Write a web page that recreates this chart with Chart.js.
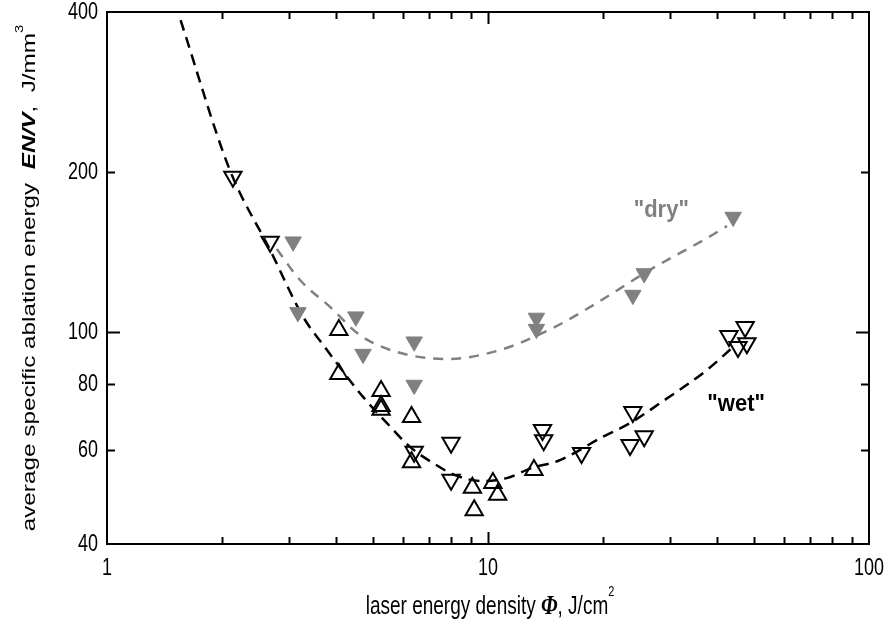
<!DOCTYPE html>
<html>
<head>
<meta charset="utf-8">
<script src="https://cdn.jsdelivr.net/npm/chart.js@4.4.1/dist/chart.umd.min.js"></script>
<style>
  html, body { margin: 0; padding: 0; background: #fff; }
  #wrap { width: 890px; height: 631px; }
</style>
</head>
<body>
<div id="wrap"><canvas id="ablation"></canvas></div>
<script>
// laser fluence (J/cm2) vs. average specific ablation energy (J/mm3)

// "wet" runs, downward triangles
var wetDownX = [2.14, 2.68, 6.4, 8.0, 8.0, 13.9, 14.0, 17.6, 24.0, 23.6, 25.7, 42.9, 47.3, 45.3, 47.8];
var wetDownY = [196, 148, 59.6, 62, 52.8, 65.5, 62.7, 59.3, 70.8, 61.4, 63.8, 98.4, 102.3, 93.8, 95.4];

// "wet" runs, upward triangles
var wetUpX = [4.06, 4.06, 5.24, 5.24, 5.24, 6.3, 6.3, 9.1, 9.2, 10.3, 10.6, 13.2];
var wetUpY = [101, 83.5, 77.6, 72.7, 71.5, 69.3, 57, 51, 46.3, 52.1, 49.5, 55.1];

// "dry" runs, filled triangles
var dryX = [3.08, 3.17, 4.5, 4.7, 6.4, 6.4, 13.4, 13.4, 24.0, 25.7, 44.0];
var dryY = [148, 109, 107, 91, 96, 79.6, 106.4, 101.4, 117.5, 129, 164.7];

// fitted trend lines
var wetFitX = [1.56, 2.1, 2.68, 3.27, 3.73, 4.7, 5.43, 6.24, 7.17, 8.19, 9.7, 11.2, 13.05, 15.45, 20.0, 23.6, 28.3, 37.6, 44.5];
var wetFitY = [386, 202, 142.8, 107, 93.8, 75.6, 67.5, 60.9, 56.8, 53.9, 52.5, 53.2, 55.6, 57.5, 63.6, 67.5, 73.6, 85, 94.6];
var dryFitX = [2.79, 3.21, 3.85, 4.61, 5.77, 7.8, 10.75, 14.8, 18.9, 26.6, 37.6, 42.4];
var dryFitY = [143.4, 125.4, 111.6, 98.8, 91.8, 89.1, 92.6, 101.9, 112.5, 131, 150.4, 158.4];

var xTicks = [1, 2, 3, 4, 5, 6, 7, 8, 9, 10, 20, 30, 40, 50, 60, 70, 80, 90, 100];
var xLabels = [1, 10, 100];
var yTicks = [40, 60, 80, 100, 200, 400];

var GRAY = 'rgb(128,128,128)';
var SANS = "'Liberation Sans', Arial, sans-serif";

function pairs(xs, ys) {
  return xs.map(function (x, i) { return { x: x, y: ys[i] }; });
}

// draws a run of differently styled text pieces, stretched by sy across the line
function drawRuns(ctx, runs, x, y, align, sy, rotate) {
  ctx.save();
  ctx.translate(x, y);
  if (rotate) ctx.rotate(-Math.PI / 2);
  ctx.scale(rotate ? sy : 1, rotate ? 1 : sy);
  var total = 0;
  runs.forEach(function (r) { ctx.font = r.font; r.w = ctx.measureText(r.text).width; total += r.w; });
  var cx = align === 'center' ? -total / 2 : (align === 'right' ? -total : 0);
  ctx.textBaseline = 'alphabetic';
  ctx.textAlign = 'left';
  runs.forEach(function (r) {
    ctx.font = r.font;
    ctx.fillStyle = r.color || '#000';
    ctx.fillText(r.text, cx, r.dy || 0);
    cx += r.w;
  });
  ctx.restore();
}

var framePlugin = {
  id: 'frame',
  afterDraw: function (chart) {
    var ctx = chart.ctx;
    var a = chart.chartArea;
    var xs = chart.scales.x, ys = chart.scales.y;
    ctx.save();
    ctx.strokeStyle = '#000';
    ctx.lineWidth = 2;
    ctx.strokeRect(a.left, a.top, a.right - a.left, a.bottom - a.top);

    // inward ticks on all four sides
    ctx.beginPath();
    xTicks.forEach(function (v) {
      if (v === 1 || v === 100) return;
      var px = Math.round(xs.getPixelForValue(v)) + 0.5;
      var len = v === 10 ? 12 : 7;
      ctx.moveTo(px, a.bottom); ctx.lineTo(px, a.bottom - len);
      ctx.moveTo(px, a.top); ctx.lineTo(px, a.top + len);
    });
    yTicks.forEach(function (v) {
      if (v === 40 || v === 400) return;
      var py = Math.round(ys.getPixelForValue(v)) + 0.5;
      var len = v === 100 ? 13 : 8;
      ctx.moveTo(a.left, py); ctx.lineTo(a.left + len, py);
      ctx.moveTo(a.right, py); ctx.lineTo(a.right - len, py);
    });
    ctx.stroke();

    // tick labels
    ctx.fillStyle = '#000';
    yTicks.forEach(function (v) {
      var py = ys.getPixelForValue(v);
      drawRuns(ctx, [{ text: String(v), font: '18px ' + SANS }], a.left - 9, py + 7, 'right', 1.3, false);
    });
    xLabels.forEach(function (v) {
      var px = xs.getPixelForValue(v);
      drawRuns(ctx, [{ text: String(v), font: '18px ' + SANS }], px, a.bottom + 31, 'center', 1.3, false);
    });

    // axis titles
    drawRuns(ctx, [
      { text: 'laser energy density ', font: '19px ' + SANS },
      { text: '\u03A6', font: "bold italic 21px 'Liberation Serif', serif" },
      { text: ', J/cm', font: '19px ' + SANS },
      { text: '2', font: '11px ' + SANS, dy: -13 }
    ], (a.left + a.right) / 2 + 2, 614, 'center', 1.35, false);

    drawRuns(ctx, [
      { text: 'average specific ablation energy  ', font: '18px ' + SANS },
      { text: 'EN/V', font: 'bold italic 18px ' + SANS },
      { text: ',  J/mm', font: '18px ' + SANS },
      { text: '3', font: '11px ' + SANS, dy: -12 }
    ], 35, (a.top + a.bottom) / 2, 'center', 1.35, true);

    // series labels
    drawRuns(ctx, [{ text: '"dry"', font: 'bold 22px ' + SANS, color: GRAY }],
      xs.getPixelForValue(28.5), ys.getPixelForValue(165), 'center', 1.1, false);
    drawRuns(ctx, [{ text: '"wet"', font: 'bold 22px ' + SANS, color: '#000' }],
      xs.getPixelForValue(44.8), ys.getPixelForValue(71), 'center', 1.1, false);
    ctx.restore();
  }
};

var ctx = document.getElementById('ablation').getContext('2d');
var chart = new Chart(ctx, {
  type: 'scatter',
  data: {
    datasets: [
      {
        label: 'wet fit',
        type: 'line',
        data: pairs(wetFitX, wetFitY),
        borderColor: '#000',
        borderWidth: 2.5,
        borderDash: [11, 7],
        pointRadius: 0,
        fill: false,
        cubicInterpolationMode: 'monotone',
        order: 4
      },
      {
        label: 'dry fit',
        type: 'line',
        data: pairs(dryFitX, dryFitY),
        borderColor: GRAY,
        borderWidth: 2.5,
        borderDash: [10, 8],
        pointRadius: 0,
        fill: false,
        cubicInterpolationMode: 'monotone',
        order: 5
      },
      {
        label: 'dry',
        data: pairs(dryX, dryY),
        pointStyle: 'triangle',
        rotation: 180,
        pointRadius: 9.5,
        backgroundColor: GRAY,
        borderColor: GRAY,
        borderWidth: 1,
        order: 3
      },
      {
        label: 'wet (down)',
        data: pairs(wetDownX, wetDownY),
        pointStyle: 'triangle',
        rotation: 180,
        pointRadius: 10,
        backgroundColor: 'rgba(0,0,0,0)',
        borderColor: '#000',
        borderWidth: 2,
        order: 2
      },
      {
        label: 'wet (up)',
        data: pairs(wetUpX, wetUpY),
        pointStyle: 'triangle',
        rotation: 0,
        pointRadius: 10,
        backgroundColor: 'rgba(0,0,0,0)',
        borderColor: '#000',
        borderWidth: 2,
        order: 1
      }
    ]
  },
  options: {
    responsive: true,
    maintainAspectRatio: false,
    animation: false,
    layout: { padding: { top: 12, right: 21, left: 0, bottom: 0 } },
    plugins: {
      legend: { display: false },
      tooltip: { enabled: false }
    },
    scales: {
      x: {
        type: 'logarithmic',
        min: 1,
        max: 100,
        grid: { display: false },
        border: { display: false },
        ticks: { display: false },
        afterFit: function (s) { s.height = 87; }
      },
      y: {
        type: 'logarithmic',
        min: 40,
        max: 400,
        grid: { display: false },
        border: { display: false },
        ticks: { display: false },
        afterFit: function (s) { s.width = 107; }
      }
    }
  },
  plugins: [framePlugin]
});
</script>
</body>
</html>
